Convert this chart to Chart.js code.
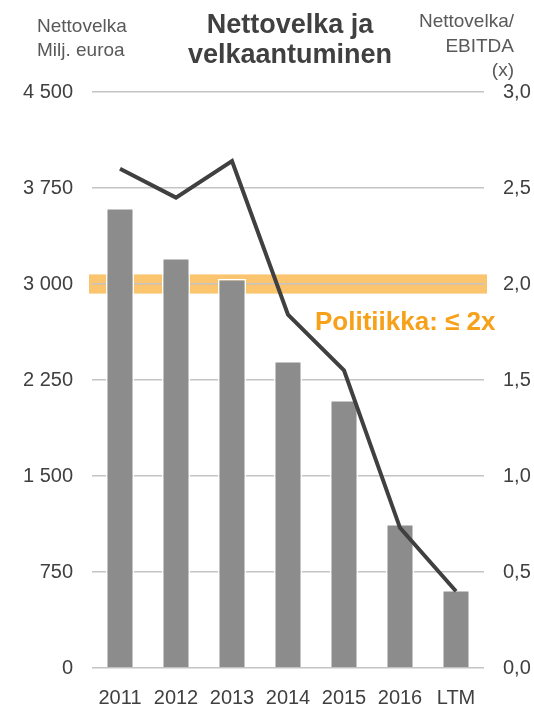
<!DOCTYPE html>
<html>
<head>
  <meta charset="utf-8">
  <script src="https://cdn.jsdelivr.net/npm/chart.js@4/dist/chart.umd.min.js"></script>
  <style>
    body { margin: 0; background: #fff; }
    #wrap { width: 534px; height: 704px; }
  </style>
</head>
<body>
<div id="wrap">
  <canvas id="chart" width="534" height="704"></canvas>
</div>

<script>
var years = ['2011', '2012', '2013', '2014', '2015', '2016', 'LTM'];
var netDebt = [3594, 3203, 3039, 2398, 2094, 1125, 609];      // Milj. euroa
var debtRatio = [2.60, 2.45, 2.64, 1.84, 1.55, 0.73, 0.40];   // Nettovelka/EBITDA
var leftTicks = ['0', '750', '1 500', '2 250', '3 000', '3 750', '4 500'];
var rightTicks = ['0,0', '0,5', '1,0', '1,5', '2,0', '2,5', '3,0'];
var policyBand = [1.95, 2.05];

var FONT = "'Liberation Sans', Arial, sans-serif";

// orange policy band, drawn under the grid
var bandPlugin = {
  id: 'band',
  beforeDraw: function(chart) {
    var ctx = chart.ctx, y1 = chart.scales.y1, a = chart.chartArea;
    var top = y1.getPixelForValue(policyBand[1]);
    var bot = y1.getPixelForValue(policyBand[0]);
    ctx.save();
    ctx.fillStyle = '#fbc56f';
    ctx.fillRect(a.left - 3, top, a.right - a.left + 6, bot - top);
    ctx.restore();
  }
};

// titles and the policy note
var textPlugin = {
  id: 'texts',
  afterDraw: function(chart) {
    var ctx = chart.ctx;
    ctx.save();
    ctx.textBaseline = 'alphabetic';

    ctx.fillStyle = '#404040';
    ctx.font = 'bold 27px ' + FONT;
    ctx.textAlign = 'center';
    ctx.fillText('Nettovelka ja', 290, 33);
    ctx.fillText('velkaantuminen', 290, 63);

    ctx.fillStyle = '#595959';
    ctx.font = '19px ' + FONT;
    ctx.textAlign = 'left';
    ctx.fillText('Nettovelka', 37, 32);
    ctx.fillText('Milj. euroa', 37, 56);

    ctx.textAlign = 'right';
    ctx.fillText('Nettovelka/', 514, 27);
    ctx.fillText('EBITDA', 514, 52);
    ctx.fillText('(x)', 514, 76);

    ctx.fillStyle = '#f7a11a';
    ctx.font = 'bold 26px ' + FONT;
    ctx.textAlign = 'left';
    ctx.fillText('Politiikka: \u2264 2x', 315, 330);
    ctx.restore();
  }
};

var ctx = document.getElementById('chart').getContext('2d');
new Chart(ctx, {
  type: 'bar',
  data: {
    labels: years,
    datasets: [{
      type: 'line',
      data: debtRatio,
      yAxisID: 'y1',
      borderColor: '#404040',
      borderWidth: 4,
      pointRadius: 0,
      tension: 0,
      order: 1
    }, {
      type: 'bar',
      data: netDebt,
      yAxisID: 'y',
      backgroundColor: '#8c8c8c',
      borderColor: '#ffffff',
      borderWidth: 1.5,
      barPercentage: 0.5,
      categoryPercentage: 1,
      order: 2
    }]
  },
  plugins: [bandPlugin, textPlugin],
  options: {
    responsive: false,
    animation: false,
    layout: { padding: { top: 92, bottom: 0, left: 0, right: 0 } },
    plugins: {
      legend: { display: false },
      title: { display: false },
      tooltip: { enabled: false }
    },
    scales: {
      x: {
        grid: { display: false },
        border: { display: false },
        afterFit: function(s) { s.height = 36; },
        ticks: { color: '#404040', font: { family: FONT, size: 20 }, padding: 10, maxRotation: 0 }
      },
      y: {
        position: 'left',
        min: 0, max: 4500,
        afterFit: function(s) { s.width = 92; },
        grid: { color: '#c4c4c4', lineWidth: 1.5, drawTicks: false },
        border: { display: false },
        ticks: {
          stepSize: 750,
          padding: 19,
          color: '#404040',
          font: { family: FONT, size: 20 },
          callback: function(v, i) { return leftTicks[i]; }
        }
      },
      y1: {
        position: 'right',
        min: 0, max: 3,
        afterFit: function(s) { s.width = 50; },
        grid: { display: false, drawTicks: false },
        border: { display: false },
        ticks: {
          stepSize: 0.5,
          padding: 19,
          color: '#404040',
          font: { family: FONT, size: 20 },
          callback: function(v, i) { return rightTicks[i]; }
        }
      }
    }
  }
});
</script>
</body>
</html>
